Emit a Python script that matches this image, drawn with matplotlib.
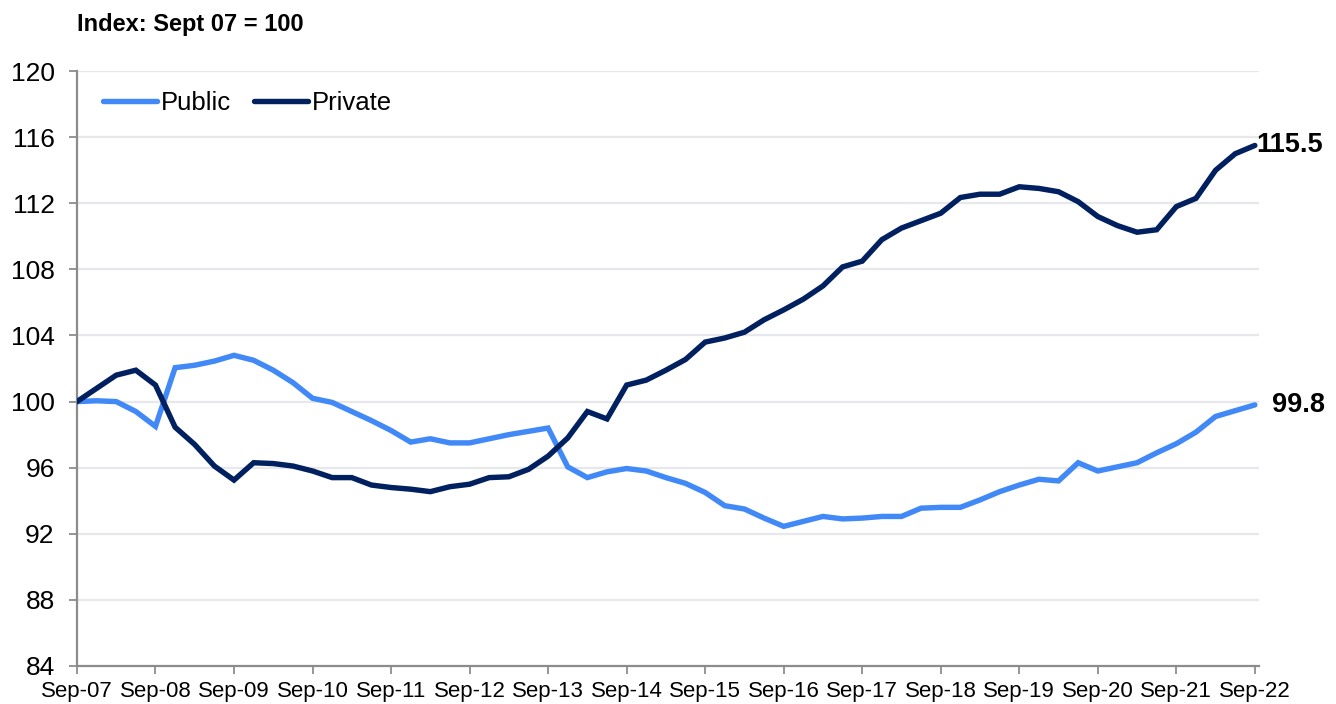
import matplotlib
matplotlib.use("Agg")
import matplotlib.pyplot as plt
import numpy as np

plt.rcParams['font.family'] = ['Liberation Sans', 'DejaVu Sans']

tick_labels = ["Sep-07", "Sep-08", "Sep-09", "Sep-10", "Sep-11", "Sep-12", "Sep-13", "Sep-14",
               "Sep-15", "Sep-16", "Sep-17", "Sep-18", "Sep-19", "Sep-20", "Sep-21", "Sep-22"]

public = [100.0, 100.05, 100.0, 99.4, 98.5, 102.05, 102.2, 102.45, 102.8, 102.5,
          101.9, 101.15, 100.2, 99.95, 99.4, 98.85, 98.25, 97.55, 97.75, 97.5,
          97.5, 97.75, 98.0, 98.2, 98.4, 96.05, 95.4, 95.75, 95.95, 95.8,
          95.4, 95.05, 94.5, 93.7, 93.5, 92.95, 92.45, 92.75, 93.05, 92.9,
          92.95, 93.05, 93.05, 93.55, 93.6, 93.6, 94.05, 94.55, 94.95, 95.3,
          95.2, 96.3, 95.8, 96.05, 96.3, 96.9, 97.45, 98.15, 99.1, 99.45, 99.8]

private = [100.0, 100.8, 101.6, 101.9, 101.0, 98.45, 97.4, 96.1, 95.25, 96.3,
           96.25, 96.1, 95.8, 95.4, 95.4, 94.95, 94.8, 94.7, 94.55, 94.85,
           95.0, 95.4, 95.45, 95.9, 96.7, 97.8, 99.4, 98.95, 101.0, 101.3,
           101.9, 102.55, 103.6, 103.85, 104.2, 104.95, 105.55, 106.2, 107.0, 108.15,
           108.5, 109.8, 110.5, 110.95, 111.4, 112.35, 112.55, 112.55, 113.0, 112.9,
           112.7, 112.1, 111.2, 110.65, 110.25, 110.4, 111.8, 112.3, 114.0, 115.0, 115.5]

yticks = [84, 88, 92, 96, 100, 104, 108, 112, 116, 120]

c_pub = "#4289F8"
c_priv = "#002060"
c_axis = "#8C8C8C"
c_grid = "#E6E8EC"

x = np.arange(len(public))

fig = plt.figure(figsize=(13.36, 7.04), dpi=100)
ax = fig.add_axes([0.0576, 0.054, 0.8846, 0.845])

for yt in yticks[1:]:
    ax.axhline(yt, color=c_grid, lw=1.6, zorder=0)

ax.plot(x, public, color=c_pub, lw=3.9, solid_capstyle='round', solid_joinstyle='miter', label="Public", zorder=3)
ax.plot(x, private, color=c_priv, lw=3.9, solid_capstyle='round', solid_joinstyle='miter', label="Private", zorder=4)

ax.set_xlim(0, 60.2)
ax.set_ylim(84, 120)
ax.set_yticks(yticks)
ax.set_yticklabels([str(v) for v in yticks], fontsize=19)
ax.set_xticks(np.arange(0, 61, 4))
ax.set_xticklabels(tick_labels, fontsize=16)

for s in ['top', 'right']:
    ax.spines[s].set_visible(False)
for s in ['left', 'bottom']:
    ax.spines[s].set_color(c_axis)
    ax.spines[s].set_linewidth(1.6)
ax.tick_params(axis='both', direction='out', color=c_axis, width=1.3, length=6)
ax.tick_params(axis='y', pad=10)
ax.tick_params(axis='x', pad=5)

leg = ax.legend(loc='upper left', bbox_to_anchor=(0.0, 1.01), ncol=2, frameon=False,
                fontsize=18.5, handlelength=2.1, handletextpad=0.15, columnspacing=0.9,
                borderaxespad=0.6)

ax.annotate(f"{private[-1]:.1f}", xy=(x[-1], private[-1]), xytext=(1, 0), textcoords='offset points',
            ha='left', va='center', fontsize=19.5, fontweight='bold', annotation_clip=False)
ax.annotate(f"{public[-1]:.1f}", xy=(x[-1], public[-1]), xytext=(12, 0), textcoords='offset points',
            ha='left', va='center', fontsize=19.5, fontweight='bold', annotation_clip=False)

fig.text(77 / 1336, 1 - 25 / 704, "Index: Sept 07 = 100", fontsize=17, fontweight='bold',
         ha='left', va='center')

fig.savefig("out.png", dpi=100)
